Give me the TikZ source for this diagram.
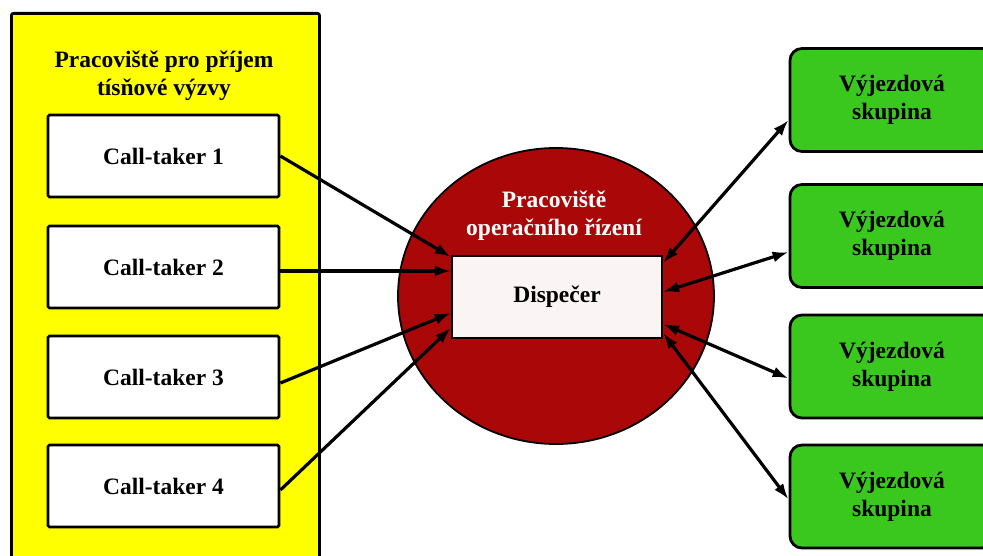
\documentclass[tikz,border=0pt]{standalone}
\usepackage{fontspec}
\setmainfont{Liberation Serif}
\usetikzlibrary{arrows.meta,positioning}
\usetikzlibrary{shapes.geometric}
\definecolor{zluta}{RGB}{255,255,0}
\definecolor{cervena}{RGB}{170,8,8}
\definecolor{zelena}{RGB}{58,200,30}
\definecolor{bila}{RGB}{250,244,244}
\tikzset{hrot/.tip={Latex[length=16pt,width=11pt]}}

\begin{document}
\begin{tikzpicture}[x=1pt,y=-1pt,font=\fontsize{23.5}{28}\selectfont\bfseries]%
        \useasboundingbox (0,0) rectangle (983,556); %%
        \clip (0,0) rectangle (983,556); %%
        %% pracoviste pro prijem
        \node[draw,fill=zluta,line width=2.8pt,rounded corners=2pt,anchor=north west,
              minimum width=308pt,minimum height=560pt] (prijem) at (10,12) {}; %%
        \node[align=center] (nadpis) at (164,76) {Pracoviště pro příjem\\tísňové výzvy}; %%
        \begin{scope}[shape=rectangle,fill=white,minimum width=231pt,minimum height=82pt]
        \tikzstyle{every node}=[draw,fill=white,line width=2.8pt,rounded corners=1.5pt] %%
        \node (ct1) at (163.5,156)  {Call-taker 1}; %%
        \node (ct2) at (163.5,267)  {Call-taker 2}; %%
        \node (ct3) at (163.5,377)  {Call-taker 3}; %%
        \node (ct4) at (163.5,486)  {Call-taker 4}; %%
        \end{scope}
        %% operacni rizeni
        \node[ellipse,draw,fill=cervena,line width=1.8pt,minimum width=316pt,minimum height=296pt] (oper) at (556,296) {}; %%
        \node[align=center,text=white] (operlbl) at (554,216) {Pracoviště\\operačního řízení}; %%
        \node[draw,fill=bila,line width=2.2pt,minimum width=210pt,minimum height=82pt] (disp) at (557,297) {Dispečer}; %%
        %% vyjezdove skupiny
        \begin{scope}[minimum width=204pt,minimum height=103pt]
        \tikzstyle{every node}=[draw,fill=zelena,line width=2.8pt,rounded corners=12pt,align=center] %%
        \node (vs1) at (892,100)  {Výjezdová\\skupina}; %%
        \node (vs2) at (892,236)  {Výjezdová\\skupina}; %%
        \node (vs3) at (892,366.5)  {Výjezdová\\skupina}; %%
        \node (vs4) at (892,496.5)  {Výjezdová\\skupina}; %%
        \end{scope}
        \draw[-hrot,line width=3.2pt] (ct1.east)--([yshift=40pt]disp.west); %%
        \draw[-hrot,line width=3.2pt] ([yshift=-4pt]ct2.east)--([yshift=26pt]disp.west); %%
        \draw[-hrot,line width=3.2pt] ([yshift=-6pt]ct3.east)--([yshift=-16pt]disp.west); %%
        \draw[-hrot,line width=3.2pt] ([yshift=-4pt]ct4.east)--([yshift=-31pt]disp.west); %%
        \draw[hrot-hrot,line width=3.2pt] ([yshift=34pt]disp.east)--([yshift=-20pt]vs1.west); %%
        \draw[hrot-hrot,line width=3.2pt] ([yshift=5pt]disp.east)--([yshift=-16pt]vs2.west); %%
        \draw[hrot-hrot,line width=3.2pt] ([yshift=-27pt]disp.east)--([yshift=-12pt]vs3.west); %%
        \draw[hrot-hrot,line width=3.2pt] ([yshift=-36pt]disp.east)--([yshift=-3pt]vs4.west); %%
        \end{tikzpicture}
\end{document}
